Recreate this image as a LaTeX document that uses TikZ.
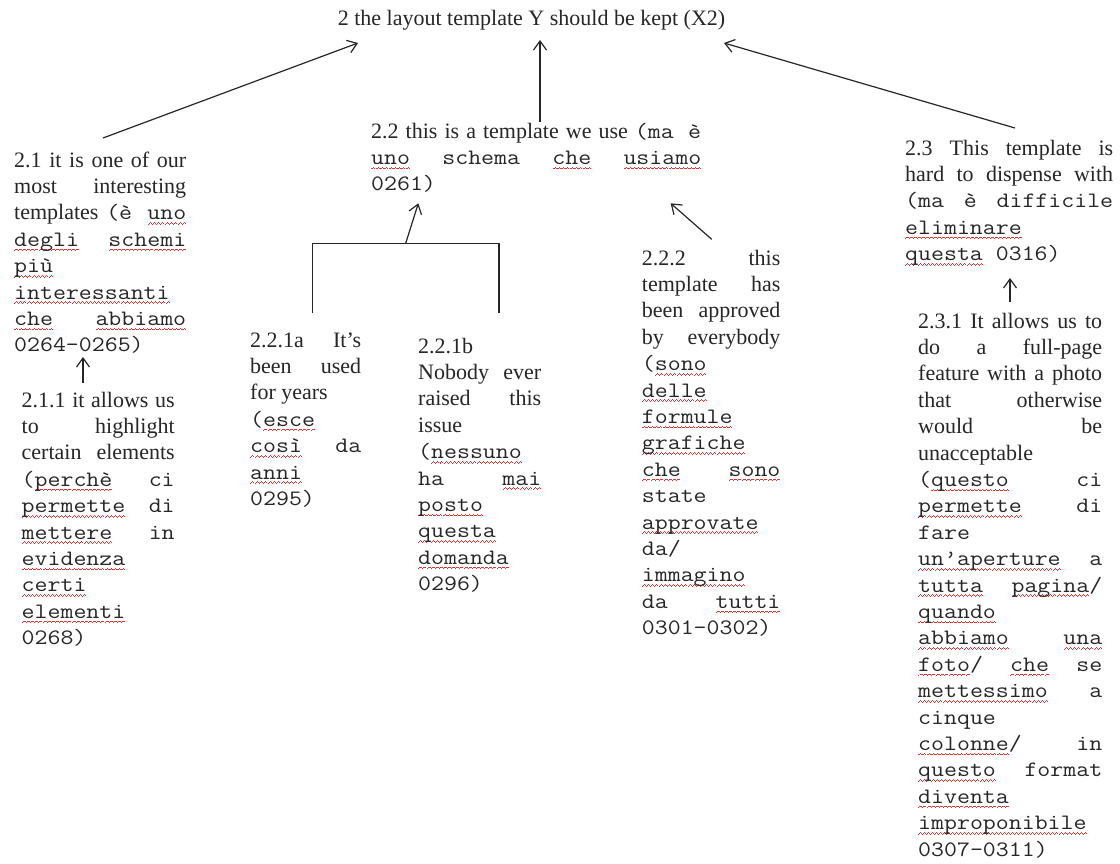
\documentclass[tikz,border=0pt]{standalone}
\usepackage{fontspec}
\setmainfont{Liberation Serif}
\setmonofont[FakeStretch=1.143]{Latin Modern Mono}
\usetikzlibrary{arrows.meta,calc}

\definecolor{ink}{RGB}{38,38,38}
\definecolor{spell}{RGB}{226,52,52}

% stretchable gap of a justified line (space of the current font plus fill)
\newcommand\gp{\ \hfill}
% Italian quotations are set in the typewriter face
\newcommand\mono[1]{{\ttfamily #1}}
% red wavy underline under a word
\newcommand\wavepiece{\hbox{\hbox{\color{spell}%
  \rule[-4.9pt]{1pt}{1pt}\rule[-4.1pt]{1pt}{1pt}%
  \rule[-3.3pt]{1pt}{1pt}\rule[-4.1pt]{1pt}{1pt}}}}
\newsavebox\wordbox
\newcommand\wavy[1]{\sbox\wordbox{#1}%
  \rlap{\hbox to\wd\wordbox{\xleaders\wavepiece\hfil}}\usebox\wordbox}
% one line of a block: justified or flush left
\newcommand\jline[1]{\hbox to\hsize{\strut#1}}
\newcommand\lline[1]{\hbox to\hsize{\strut#1\hfil}}
% a block of lines of a given width
\newcommand\blk[2]{\vbox{\hsize=#1\relax\lineskiplimit=-100pt #2}}

\begin{document}
\begin{tikzpicture}[x=1pt,y=-1pt,
  every node/.style={inner sep=0pt,text=ink},
  txt/.style={anchor=north west,font=\fontsize{22}{26.4}\selectfont},
  link/.style={draw=ink,line width=1.2pt},
  arr/.style={link,-{Straight Barb[length=9pt,width=13pt]}}]

\useasboundingbox (0,0) rectangle (1120,863);
\fill[white] (0,0) rectangle (1120,863);

% root claim
\node[font=\fontsize{22}{26.4}\selectfont,anchor=base] (t2) at (531.5,25)
  {2 the layout template Y should be kept (X2)};

% 2.1 and its support
\node[txt] (n21) at (14,148.5) {\blk{172pt}{%
  \jline{2.1\gp it\gp is\gp one\gp of\gp our}
  \jline{most\gp interesting}
  \jline{templates\gp\mono{(è\gp\wavy{uno}}}
  \jline{\mono{\wavy{degli}\gp\wavy{schemi}}}
  \lline{\mono{\wavy{più}}}
  \lline{\mono{\wavy{interessanti}}}
  \jline{\mono{\wavy{che}\gp\wavy{abbiamo}}}
  \lline{\mono{0264-0265)}}}};

\node[txt] (n211) at (21.5,388.5) {\blk{153pt}{%
  \jline{2.1.1\gp it\gp allows\gp us}
  \jline{to\gp highlight}
  \jline{certain\gp elements}
  \jline{\mono{(\wavy{perchè}\gp ci}}
  \jline{\mono{\wavy{permette}\gp di}}
  \jline{\mono{\wavy{mettere}\gp in}}
  \lline{\mono{\wavy{evidenza}}}
  \lline{\mono{\wavy{certi}}}
  \lline{\mono{\wavy{elementi}}}
  \lline{\mono{0268)}}}};

% 2.2 and its supports
\node[txt] (n22) at (371,119.5) {\blk{330pt}{%
  \jline{2.2\gp this\gp is\gp a\gp template\gp we\gp use\gp\mono{(ma\gp è}}
  \jline{\mono{\wavy{uno}\gp schema\gp\wavy{che}\gp\wavy{usiamo}}}
  \lline{\mono{0261)}}}};

\node[txt] (n221a) at (250,328.5) {\blk{111pt}{%
  \jline{2.2.1a\gp It’s}
  \jline{been\gp used}
  \lline{for years}
  \lline{\mono{(\wavy{esce}}}
  \jline{\mono{\wavy{così}\gp da}}
  \lline{\mono{\wavy{anni}}}
  \lline{\mono{0295)}}}};

\node[txt] (n221b) at (418,334.5) {\blk{123pt}{%
  \lline{2.2.1b}
  \jline{Nobody\gp ever}
  \jline{raised\gp this}
  \lline{issue}
  \lline{\mono{(\wavy{nessuno}}}
  \jline{\mono{ha\gp\wavy{mai}}}
  \lline{\mono{\wavy{posto}}}
  \lline{\mono{\wavy{questa}}}
  \lline{\mono{\wavy{domanda}}}
  \lline{\mono{0296)}}}};

\node[txt] (n222) at (641.7,246.5) {\blk{138.5pt}{%
  \jline{2.2.2\gp this}
  \jline{template\gp has}
  \jline{been\gp approved}
  \jline{by\gp everybody}
  \lline{\mono{(\wavy{sono}}}
  \lline{\mono{\wavy{delle}}}
  \lline{\mono{\wavy{formule}}}
  \lline{\mono{\wavy{grafiche}}}
  \jline{\mono{\wavy{che}\gp\wavy{sono}}}
  \lline{\mono{state}}
  \lline{\mono{\wavy{approvate}}}
  \lline{\mono{da/}}
  \lline{\mono{\wavy{immagino}}}
  \jline{\mono{da\gp\wavy{tutti}}}
  \lline{\mono{0301-0302)}}}};

% 2.3 and its support
\node[txt] (n23) at (905,136.5) {\blk{208pt}{%
  \jline{2.3\gp This\gp template\gp is}
  \jline{hard\gp to\gp dispense\gp with}
  \jline{\mono{(ma\gp è\gp difficile}}
  \lline{\mono{\wavy{eliminare}}}
  \lline{\mono{\wavy{questa} 0316)}}}};

\node[txt] (n231) at (918,309.5) {\blk{184pt}{%
  \jline{2.3.1\gp It\gp allows\gp us\gp to}
  \jline{do\gp a\gp full-page}
  \jline{feature\gp with\gp a\gp photo}
  \jline{that\gp otherwise}
  \jline{would\gp be}
  \lline{unacceptable}
  \jline{\mono{(\wavy{questo}\gp ci}}
  \jline{\mono{\wavy{permette}\gp di}}
  \lline{\mono{fare}}
  \jline{\mono{\wavy{un’aperture}\gp a}}
  \jline{\mono{\wavy{tutta}\gp\wavy{pagina}/}}
  \lline{\mono{\wavy{quando}}}
  \jline{\mono{\wavy{abbiamo}\gp\wavy{una}}}
  \jline{\mono{\wavy{foto}/\gp\wavy{che}\gp se}}
  \jline{\mono{\wavy{mettessimo}\gp a}}
  \lline{\mono{cinque}}
  \jline{\mono{\wavy{colonne}/\gp in}}
  \jline{\mono{\wavy{questo}\gp format}}
  \lline{\mono{\wavy{diventa}}}
  \lline{\mono{\wavy{improponibile}}}
  \lline{\mono{0307-0311)}}}};

% support arrows towards the root claim
\draw[arr] ($(n21.north west)+(89,-10.5)$) -- ($(t2.base)+(-173.5,18)$);
\draw[arr] ($(n22.north west)+(169,2.5)$) -- ($(t2.base)+(8.5,15)$);
\draw[arr] ($(n23.north west)+(110,-8.5)$) -- ($(t2.base)+(192.5,18)$);

% second level arrows
\draw[arr] ($(n211.north west)+(61.5,-5.5)$) -- ($(n21.north west)+(69,208.5)$);
\draw[arr] ($(n231.north west)+(92,-7.5)$) -- ($(n23.north west)+(105,141.5)$);
\draw[arr] ($(n222.north west)+(70,-7.2)$) -- ($(n22.north west)+(299.7,83.8)$);

% joint support of 2.2.1a and 2.2.1b
\coordinate (brk) at (405.7,243.3);
\draw[link] ($(n221a.north west)+(62.3,-15.2)$) |- (brk)
  -| ($(n221b.north west)+(81,-21.2)$);
\draw[arr] (brk) -- ($(n22.north west)+(47.3,83.8)$);
\end{tikzpicture}
\end{document}
